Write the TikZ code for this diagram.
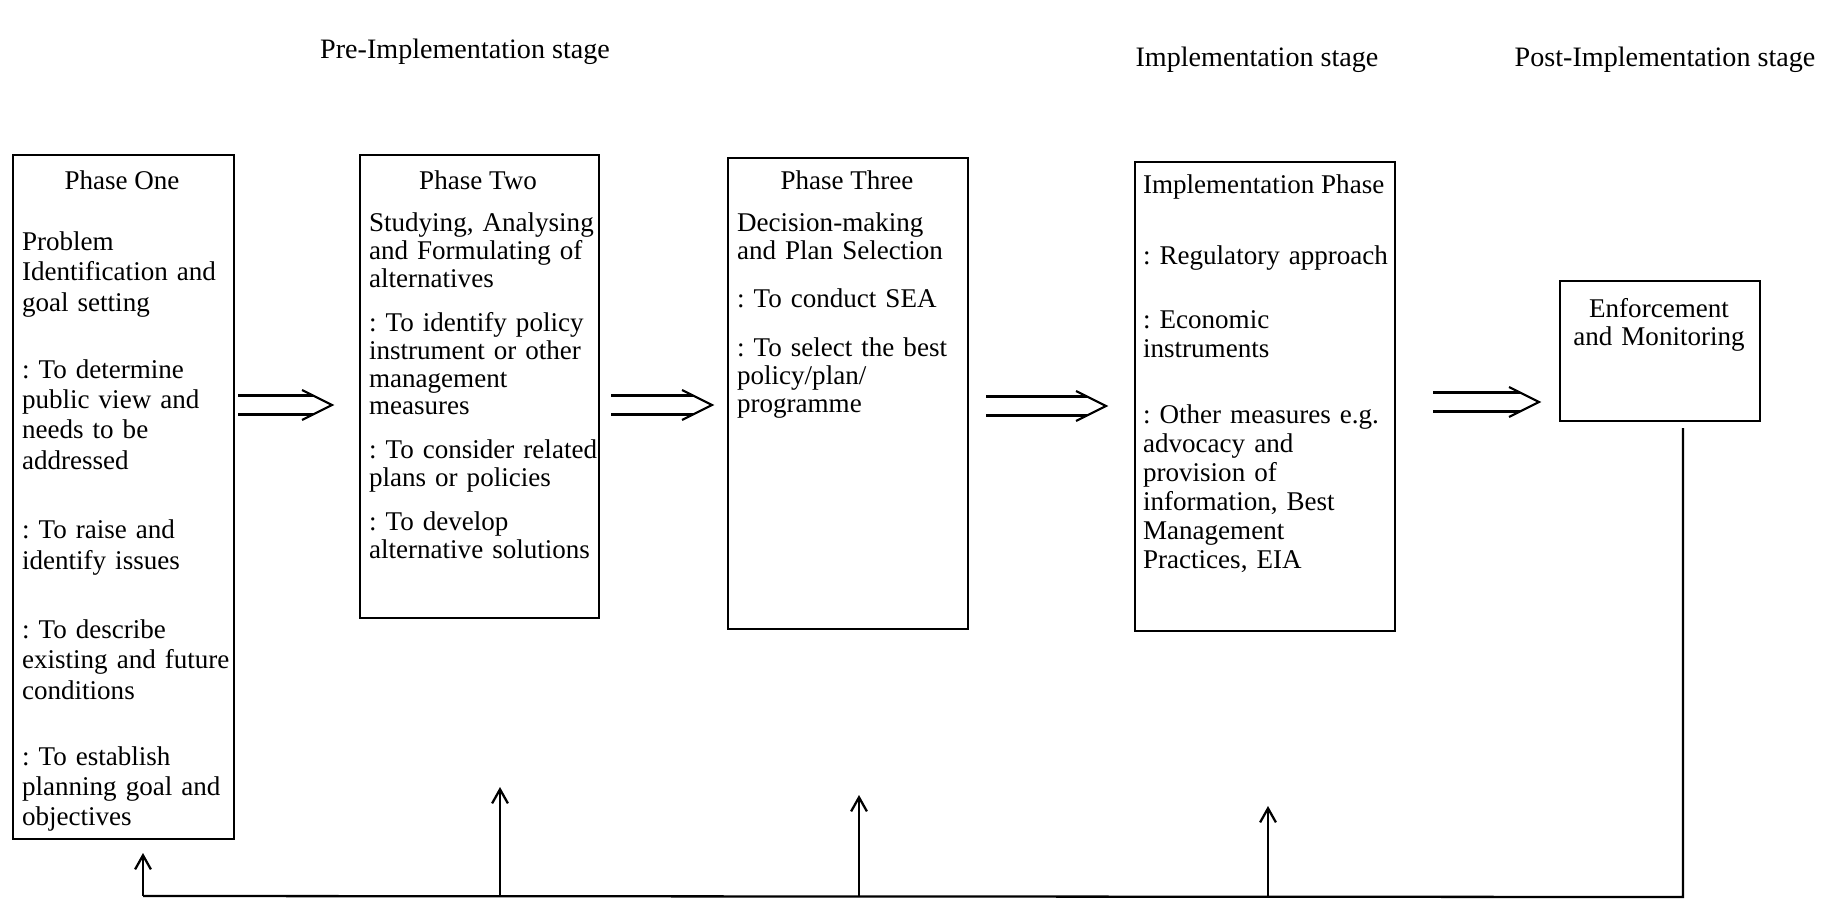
\documentclass[tikz,border=0pt]{standalone}
\usepackage{fontspec}
\setmainfont{Liberation Serif}
\usetikzlibrary{arrows.meta,calc}
\frenchspacing
\begin{document}
\begin{tikzpicture}[x=0.02cm,y=-0.02cm,
  line width=1.2pt,
  phase/.style={draw, line width=1.2pt, inner sep=0pt, anchor=north west},
  title/.style={anchor=base, inner sep=0pt, font=\fontsize{15.4pt}{17pt}\selectfont},
  body/.style={anchor=base west, inner sep=0pt, text width=5.4cm, align=left,
               font=\fontsize{15.4pt}{#1}\selectfont},
  head/.style={anchor=base, inner sep=0pt, font=\fontsize{16pt}{18pt}\selectfont},
  feed/.style={line width=1.3pt},
  uparrow/.style={line width=1.3pt, -{Straight Barb[length=8pt,width=9pt,line width=1.3pt]}},
  dblline/.style={line width=1.2pt}
]
\useasboundingbox (0,0) rectangle (1824,906);

% stage headings
\node[head] (h1) at (465,58) {Pre-Implementation stage};
\node[head] (h2) at (1257,66) {Implementation stage};
\node[head] (h3) at (1665,66) {Post-Implementation stage};

% phase boxes
\node[phase, minimum width=4.42cm, minimum height=13.68cm] (b1) at (12,154) {};
\node[phase, minimum width=4.78cm, minimum height=9.26cm]  (b2) at (359,154) {};
\node[phase, minimum width=4.80cm, minimum height=9.42cm]  (b3) at (727,157) {};
\node[phase, minimum width=5.20cm, minimum height=9.38cm]  (b4) at (1134,161) {};
\node[phase, minimum width=4.00cm, minimum height=2.80cm]  (b5) at (1559,280) {};

% Phase One
\node[title] (t1) at (122,189) {Phase One};
\node[body=17.25pt] (x1) at (21,250.5) {Problem\\Identification and\\goal setting\\[21pt]%
: To determine\\public view and\\needs to be\\addressed\\[22.3pt]%
: To raise and\\identify issues\\[22.3pt]%
: To describe\\existing and future\\conditions\\[20.4pt]%
: To establish\\planning goal and\\objectives};

% Phase Two
\node[title] (t2) at (478,189) {Phase Two};
\node[body=15.82pt] (x2) at (368,231.9) {Studying, Analysing\\and Formulating of\\alternatives\\[9.2pt]%
: To identify policy\\instrument or other\\management\\measures\\[9.2pt]%
: To consider related\\plans or policies\\[9.2pt]%
: To develop\\alternative solutions};

% Phase Three
\node[title] (t3) at (847,189) {Phase Three};
\node[body=15.82pt] (x3) at (736,231.9) {Decision-making\\and Plan Selection\\[11.2pt]%
: To conduct SEA\\[12.5pt]%
: To select the best\\policy/plan/\\programme};

% Implementation Phase
\node[title, anchor=base west] (t4) at (1142,193.5) {Implementation Phase};
\node[body=16.5pt] (x4) at (1142,264.5) {: Regulatory approach\\[19.8pt]%
: Economic\\instruments\\[21.1pt]%
: Other measures e.g.\\advocacy and\\provision of\\information, Best\\Management\\Practices, EIA};

% Enforcement and Monitoring
\node[anchor=base, inner sep=0pt, text width=3.8cm, align=center,
      font=\fontsize{15.4pt}{16.4pt}\selectfont] (t5) at (1659,317) {Enforcement\\and Monitoring};

% double arrows between the phases
\coordinate (a1s) at (238,405);  \coordinate (a1e) at (332,405);
\coordinate (a2s) at (611,405);  \coordinate (a2e) at (712,405);
\coordinate (a3s) at (986,406);  \coordinate (a3e) at (1106,406);
\coordinate (a4s) at (1433,402); \coordinate (a4e) at (1539,402);
\foreach \s/\e in {a1s/a1e, a2s/a2e, a3s/a3e, a4s/a4e} {
  \draw[dblline] ($(\s)+(0,-9.5)$) -- ($(\e)+(-19,-9.5)$);
  \draw[dblline] ($(\s)+(0,9.5)$) -- ($(\e)+(-19,9.5)$);
  \draw[dblline] ($(\e)+(-30,-15)$) -- (\e) -- ($(\e)+(-30,15)$);
}

% feedback loop
\coordinate (fbTop) at (1683,428);
\coordinate (fbCorner) at (1683,897);
\coordinate (u1b) at (143,896); \coordinate (u1t) at (143,853);
\coordinate (u2b) at (500,896); \coordinate (u2t) at (500,787);
\coordinate (u3b) at (859,897); \coordinate (u3t) at (859,795);
\coordinate (u4b) at (1268,897); \coordinate (u4t) at (1268,806);
\draw[feed] (fbTop) -- (fbCorner) -- (u1b);
\draw[uparrow] (u1b) -- (u1t);
\draw[uparrow] (u2b) -- (u2t);
\draw[uparrow] (u3b) -- (u3t);
\draw[uparrow] (u4b) -- (u4t);
\end{tikzpicture}
\end{document}
